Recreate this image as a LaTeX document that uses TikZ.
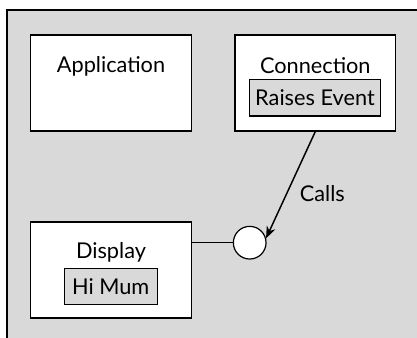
\documentclass[tikz,border=0pt]{standalone}
\usepackage{fontspec}
\setmainfont{Lato}
\usepackage{tikz}
\usetikzlibrary{arrows.meta,positioning}
\definecolor{panel}{HTML}{D9D9D9}

\begin{document}
\begin{tikzpicture}[
  x=0.75pt, y=-0.75pt,
  font=\fontsize{16.3}{19}\selectfont,
  comp/.style={draw, fill=white, line width=.9pt, minimum width=120.5pt,
               minimum height=72pt, inner sep=0pt},
  inner/.style={draw, fill=panel, line width=.9pt, minimum height=27.5pt,
                inner sep=0pt},
  title/.style={inner sep=0pt},
  port/.style={draw, fill=white, circle, line width=.9pt, minimum size=24.5pt,
               inner sep=0pt},
  flow/.style={-{Stealth[length=9pt,width=7pt]}, line width=1.1pt},
  wire/.style={line width=1.1pt}
]
  \useasboundingbox (0,0) rectangle (417,338);
  \draw[fill=panel, line width=.9pt] (7,10) rectangle (430,350);

  \node[comp] (app) at (111,83) {};
  \node[comp] (conn) at (315.3,83) {};
  \node[comp] (disp) at (111,270) {};

  \node[title] (apptitle) at (111,66) {Application};
  \node[title] (conntitle) at (315.3,66) {Connection};
  \node[inner, minimum width=98.25pt] (raise) at (315,97.7) {Raises Event};
  \node[title] (disptitle) at (111,252) {Display};
  \node[inner, minimum width=69.75pt] (mum) at (110.7,286.5) {Hi Mum};

  \node[port] (iface) at (249.7,242.7) {};
  \draw[wire] (disp.east |- iface.west) -- (iface.west);
  \draw[flow] (conn.south) -- (iface.15)
    node[pos=.58, right=6pt] (calls) {Calls};
\end{tikzpicture}
\end{document}
